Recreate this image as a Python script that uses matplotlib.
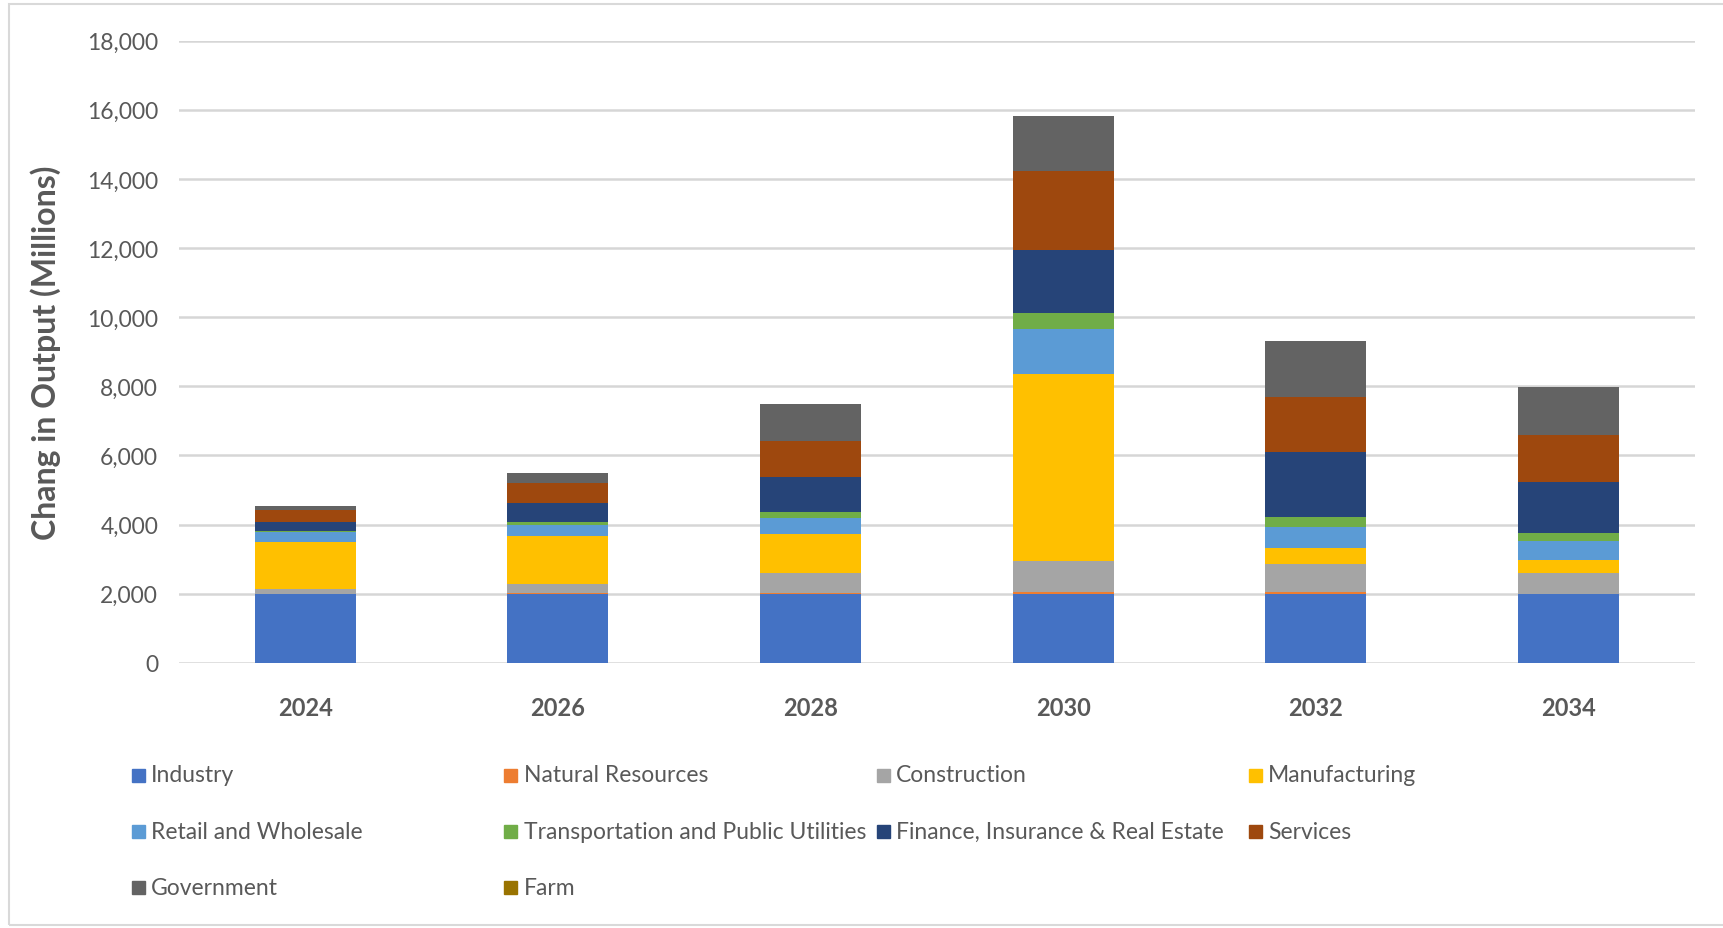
import numpy as np
import matplotlib
matplotlib.use("Agg")
import matplotlib.pyplot as plt
from matplotlib.patches import Rectangle

# data (millions)
years = ["2024", "2026", "2028", "2030", "2032", "2034"]
sectors = ["Industry", "Natural Resources", "Construction", "Manufacturing",
           "Retail and Wholesale", "Transportation and Public Utilities",
           "Finance, Insurance & Real Estate", "Services", "Government", "Farm"]

industry = [2000, 2000, 2000, 2000, 2000, 2000]
natural_resources = [5, 10, 10, 40, 55, 5]
construction = [130, 270, 590, 910, 815, 590]
manufacturing = [1350, 1390, 1120, 5415, 465, 390]
retail = [290, 320, 465, 1285, 610, 540]
transport = [50, 95, 175, 460, 280, 240]
finance = [260, 550, 1015, 1825, 1865, 1480]
services = [330, 560, 1045, 2305, 1605, 1355]
government = [130, 290, 1065, 1575, 1615, 1370]
farm = [0, 0, 0, 0, 0, 0]

series = [industry, natural_resources, construction, manufacturing, retail,
          transport, finance, services, government, farm]
colors = ["#4472C4", "#ED7D31", "#A5A5A5", "#FFC000", "#5B9BD5",
          "#70AD47", "#264478", "#9E480E", "#636363", "#997300"]

grey_txt = "#595959"
num_font = ["Lato", "DejaVu Sans"]

fig = plt.figure(figsize=(17.24, 9.29), dpi=100)
ax = fig.add_axes([0.1038, 0.2853, 0.8792, 0.67])

x = np.arange(len(years))
bottom = np.zeros(len(years))
for vals, col, name in zip(series, colors, sectors):
    ax.bar(x, vals, width=0.4, bottom=bottom, color=col, label=name, zorder=3)
    bottom += np.array(vals)

ax.set_xlim(-0.5, len(years) - 0.5)
ax.set_ylim(0, 18000)
ax.set_yticks(np.arange(0, 18001, 2000))
ax.set_yticklabels([f"{v:,}" for v in range(0, 18001, 2000)],
                   family=num_font, fontsize=16.5, color=grey_txt)
ax.set_xticks(x)
ax.set_xticklabels(years, family=num_font, fontsize=17, fontweight="bold",
                   color=grey_txt)
ax.tick_params(axis="y", length=0, pad=15)
ax.tick_params(axis="x", length=0, pad=24)
ax.grid(axis="y", color="#D6D6D6", linewidth=1.8, zorder=0)
for s in ax.spines.values():
    s.set_visible(False)

ax.set_ylabel("Chang in Output (Millions)", family=num_font, fontsize=23,
              fontweight="bold", color=grey_txt)
ax.yaxis.set_label_coords(-0.0775, 0.5)

# legend laid out row by row in four equal columns, like the original
row_y = [0.1647, 0.1044, 0.0441]
for i, (name, col) in enumerate(zip(sectors, colors)):
    r, c = divmod(i, 4)
    x0 = 0.0765 + c * 0.216
    fig.patches.append(Rectangle((x0, row_y[r] - 0.0075), 0.0075, 0.014,
                                 transform=fig.transFigure, color=col))
    fig.text(x0 + 0.0112, row_y[r], name, family=num_font, fontsize=16.5,
             color=grey_txt, va="center", ha="left")

# outer chart border
fig.patches.append(Rectangle((0.005, 0.003), 1.0, 0.992, transform=fig.transFigure,
                             fill=False, edgecolor="#D9D9D9", linewidth=1.5))

fig.savefig("out.png", dpi=100)
